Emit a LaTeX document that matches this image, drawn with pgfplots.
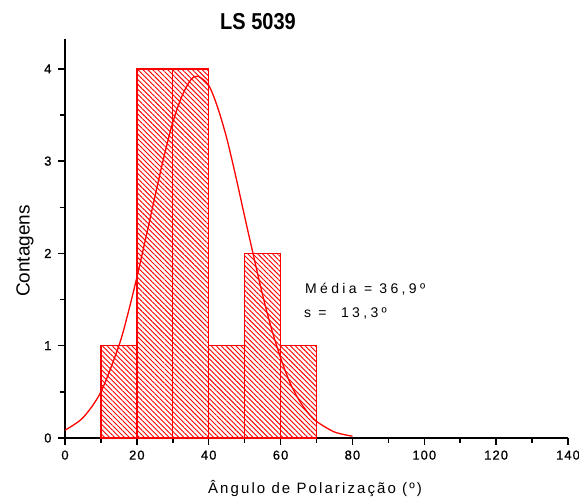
\documentclass[border=0pt]{standalone}
\usepackage{fontspec}
\setmainfont{Liberation Sans}
\newfontfamily\spaced[LetterSpace=14]{Liberation Sans}
\newfontfamily\annfont[LetterSpace=24]{Liberation Sans}
\newfontfamily\tickfont[LetterSpace=8,FakeBold=0.8]{Liberation Sans}
\usepackage{graphicx}
\usepackage{pgfplots}
\pgfplotsset{compat=1.18}
\usetikzlibrary{patterns.meta}
\begin{document}
\begin{tikzpicture}
\path[use as bounding box] (-65pt,-63pt) rectangle (514pt,438pt);
\begin{axis}[
 at={(0pt,0pt)}, anchor=south west,
 scale only axis, width=503pt, height=398.7pt,
 xmin=0, xmax=140, ymin=0, ymax=4.32,
 axis lines*=left,
 axis line style={black, line width=2pt},
 xtick={0,20,...,140}, ytick={0,1,2,3,4},
 minor x tick num=1, minor y tick num=1,
 tick align=outside,
 major tick length=7pt, minor tick length=5pt,
 every tick/.style={black, line width=1.5pt},
 /pgf/number format/assume math mode=true,
 tick label style={font=\tickfont\fontsize{13}{15}\selectfont, black},
 xticklabel style={yshift=-2pt},
 yticklabel style={xshift=-3pt},
 clip=false,
]
\addplot[ybar interval, draw=red, line width=1.4pt,
  pattern={Lines[angle=-45,distance=3.5pt,line width=0.9pt]}, pattern color=red]
  coordinates {(10,1)(20,4)(30,4)(40,1)(50,2)(60,1)(70,1)};
\addplot[red, line width=1.3pt, smooth, mark=none] coordinates {
(0,0.085)(5,0.22)(10,0.50)(15,1.00)(17.5,1.345)(20,1.74)(22.5,2.17)(25,2.61)
(27.5,3.04)(30,3.42)(32.5,3.70)(35,3.88)(37,3.92)(40,3.82)(42.5,3.58)(45,3.25)
(47.5,2.84)(50,2.40)(52.5,1.97)(55,1.55)(57.5,1.18)(60,0.87)(62.5,0.61)(65,0.42)
(67.5,0.28)(70,0.18)(75,0.065)(80,0.02)};
\node[anchor=base west, inner sep=0pt, font=\annfont\fontsize{14}{16}\selectfont] at (axis cs:66.8,1.57) {Média = 36,9º};
\node[anchor=base west, inner sep=0pt, font=\annfont\fontsize{14}{16}\selectfont] at (axis cs:66.5,1.31) {s = \ 13,3º};
\end{axis}
\node[font=\bfseries\fontsize{20}{24}\selectfont] at (193pt,416pt) {\scalebox{1}[1.15]{LS 5039}};
\node[font=\spaced\fontsize{15}{18}\selectfont] at (250pt,-51pt) {Ângulo de Polarização (º)};
\node[rotate=90, font=\fontsize{19}{22}\selectfont] at (-40pt,187pt) {Contagens};
\end{tikzpicture}
\end{document}
